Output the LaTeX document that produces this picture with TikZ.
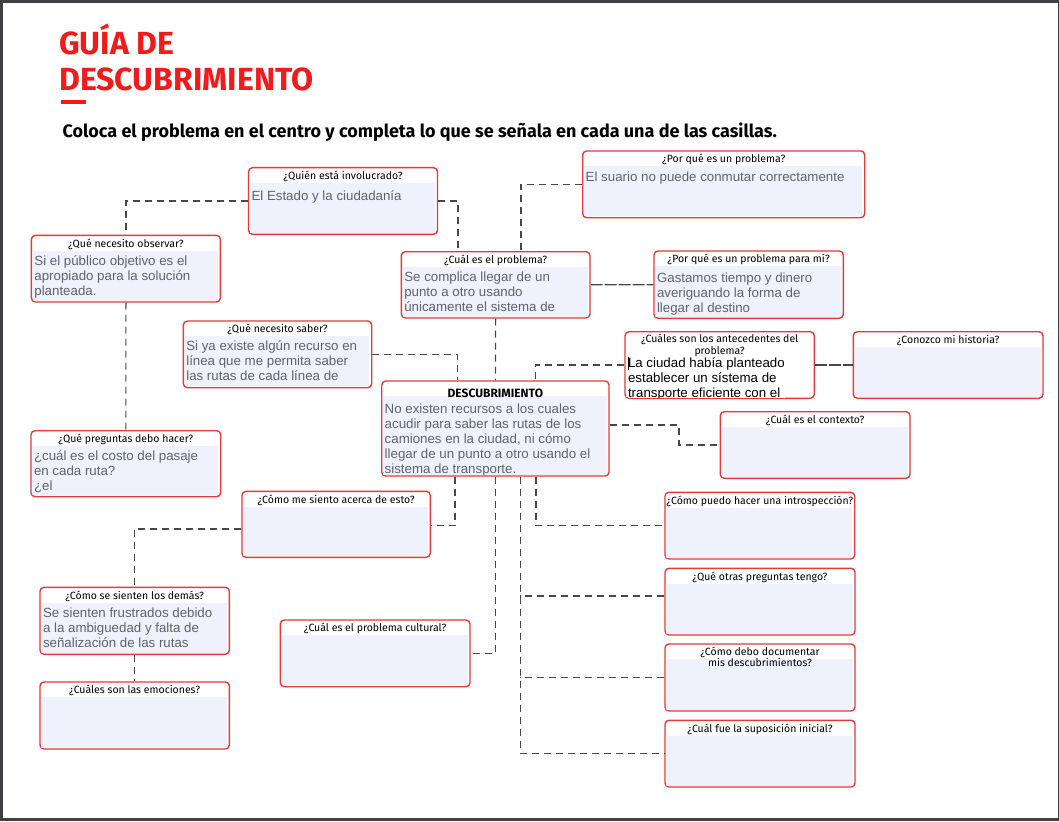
\documentclass[tikz,border=0pt]{standalone}
\usepackage{fontspec}
\setmainfont{Liberation Sans}
\newfontfamily\titulares{Fira Sans}
\usetikzlibrary{fit}

\definecolor{rojo}{RGB}{240,28,28}
\definecolor{borde}{RGB}{230,58,58}
\definecolor{lavanda}{RGB}{239,242,252}
\definecolor{gristexto}{RGB}{95,99,108}
\definecolor{guion}{RGB}{72,72,72}
\definecolor{marco}{RGB}{62,64,67}

% caja[relleno]{nombre}{x0}{y0}{x1}{y1}{bajada}{pregunta}{respuesta}
\newcommand{\caja}[9][relleno]{%
  \node[caja, fit={(#3,#4) (#5,#6)}] (#2) {};
  \begin{scope}
    \clip ([shift={(2,16)}]#2.north west) rectangle ([shift={(-3,-2)}]#2.south east);
    \fill[#1] ([shift={(2,16)}]#2.north west) rectangle ([shift={(-3,-2)}]#2.south east);
    \node[texto, #1] at ([shift={(3.5,#7-8)}]#2.north west) {#9};
  \end{scope}
  \node[titulo] at ([yshift=-3.3pt]#2.north) {#8};
}

\begin{document}
\begin{tikzpicture}[x=1pt, y=-1pt,
  caja/.style={draw=borde, line width=1.4pt, rounded corners=4pt, inner sep=0pt},
  relleno/.style={fill=lavanda},
  blanco/.style={fill=white, text=black},
  texto/.style={anchor=north west, inner sep=0pt, align=left, text=gristexto, font=\fontsize{13.3}{15}\selectfont, execute at begin node={\rule{0pt}{12pt}}},
  titulo/.style={anchor=north, inner sep=0pt, align=center, font=\titulares\fontsize{10.5}{9.7}\selectfont, execute at begin node={\rule{0pt}{9pt}}},
  conector/.style={draw=guion, line width=1.2pt, dash pattern=on 7pt off 5pt},
  conector2/.style={draw=guion, line width=1.2pt, dash pattern=on 12pt off 2pt}]

\useasboundingbox (0,0) rectangle (1059,821);
\fill[marco] (0,0) rectangle (1059,821);
\fill[white] (3,3) rectangle (1058,818);

\node[anchor=base west, inner sep=0pt, text=rojo, font=\titulares\bfseries\fontsize{32}{34}\selectfont] (titulo1) at (59,55) {GUÍA DE};
\node[anchor=base west, inner sep=0pt, text=rojo, font=\titulares\bfseries\fontsize{32}{34}\selectfont] (titulo2) at (59,90.7) {DESCUBRIMIENTO};
\fill[rojo] (61,100) rectangle (85.5,104.3);
\node[anchor=base west, inner sep=0pt, font=\titulares\bfseries\fontsize{18}{20}\selectfont] (consigna) at (62.5,138) {Coloca el problema en el centro y completa lo que se señala en cada una de las casillas.};

\caja{quien}{248.5}{167.7}{437.5}{234.3}{29.5}{¿Quién está involucrado?}{El Estado y la ciudadanía}
\caja{observar}{31.4}{235.3}{220.4}{302}{28.5}{¿Qué necesito observar?}{Si el público objetivo es el\\apropiado para la solución\\planteada.}
\caja{porque}{582.7}{151}{864.7}{217.7}{27.5}{¿Por qué es un problema?}{El suario no puede conmutar correctamente}
\caja{cual}{401.3}{251.7}{590}{318}{28.5}{¿Cuál es el problema?}{Se complica llegar de un\\punto a otro usando\\únicamente el sistema de}
\caja{parami}{654}{251}{843.3}{318.3}{30}{¿Por qué es un problema para mí?}{Gastamos tiempo y dinero\\averiguando la forma de\\llegar al destino}
\caja{saber}{183.3}{321}{371.7}{387.7}{28.2}{¿Qué necesito saber?}{Si ya existe algún recurso en\\línea que me permita saber\\las rutas de cada línea de}
\caja[blanco]{antec}{625}{331.7}{814.3}{398.3}{33.5}{¿Cuáles son los antecedentes del\\problema?}{\rule[-3pt]{0.7pt}{13.5pt}\hspace{-0.7pt}La ciudad había planteado\\establecer un sístema de\\transporte eficiente con el}
\caja{conozco}{853.3}{331.7}{1043}{398.3}{28.5}{¿Conozco mi historia?}{}
\caja{desc}{381.7}{381}{609}{476}{31.5}{}{No existen recursos a los cuales\\acudir para saber las rutas de los\\camiones en la ciudad, ni cómo\\llegar de un punto a otro usando el\\sistema de transporte.}
\node[titulo, font=\titulares\bfseries\fontsize{12}{11}\selectfont] (desctitulo) at ([yshift=-7.5pt]desc.north) {DESCUBRIMIENTO};
\caja{contexto}{720.3}{411.7}{910}{478.3}{28.5}{¿Cuál es el contexto?}{}
\caja{preguntas}{31}{430.7}{220.7}{496.7}{28.5}{¿Qué preguntas debo hacer?}{¿cuál es el costo del pasaje\\en cada ruta?\\¿el}
\caja{siento}{242}{491.3}{430.3}{557.3}{28.5}{¿Cómo me siento acerca de esto?}{}
\caja{intro}{665}{492.3}{854.7}{559}{28.5}{¿Cómo puedo hacer una introspección?}{}
\caja{sienten}{40}{587.3}{229.3}{654.3}{29.5}{¿Cómo se sienten los demás?}{Se sienten frustrados debido\\a la ambiguedad y falta de\\señalización de las rutas}
\caja{cultural}{280.3}{620}{470}{686.7}{28.5}{¿Cuál es el problema cultural?}{}
\caja{otras}{665}{568.3}{855}{635}{28.5}{¿Qué otras preguntas tengo?}{}
\caja{documentar}{665}{644}{855}{711}{28.5}{¿Cómo debo documentar\\mis descubrimientos?}{}
\caja{emociones}{40}{682}{229.3}{749}{28.5}{¿Cuáles son las emociones?}{}
\caja{suposicion}{665}{720.3}{855}{787}{28.5}{¿Cuál fue la suposición inicial?}{}

\draw[conector] (quien.west) -| (observar.north);
\draw[conector] (quien.east) -| ([xshift=-37.6pt]cual.north);
\draw[conector] (porque.west) -| ([xshift=25.4pt]cual.north);
\draw[conector2] (cual.east) -- (parami.west);
\draw[conector] (cual.south) -- (desc.north);
\draw[conector] (saber.east) -| ([xshift=-37.6pt]desc.north);
\draw[conector] (antec.west) -| ([xshift=40.4pt]desc.north);
\draw[conector2] (antec.east) -- (conozco.west);
\draw[conector] ([yshift=3.5pt]desc.east) -- ++(69.3,0) |- (contexto.west);
\draw[conector] ([xshift=-40.3pt]desc.south) |- ([yshift=-1.4pt]siento.east);
\draw[conector] (desc.south) |- (cultural.east);
\draw[conector] ([xshift=40.7pt]desc.south) |- (intro.west);
\draw[conector] ([xshift=25.4pt]desc.south) |- (suposicion.west);
\draw[conector] ([yshift=5.7pt]otras.west) -- ++(-144.3,0);
\draw[conector] (documentar.west) -- ++(-144.3,0);
\draw[conector] (observar.south) -- (preguntas.north);
\draw[conector] ([yshift=-4.7pt]siento.west) -| (sienten.north);
\draw[conector] (sienten.south) -- (emociones.north);

\end{tikzpicture}
\end{document}
